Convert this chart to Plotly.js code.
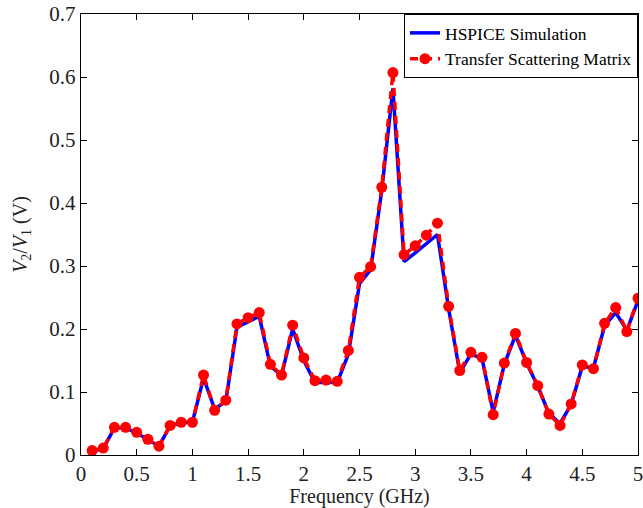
<!DOCTYPE html>
<html><head><meta charset="utf-8">
<script src="https://cdn.plot.ly/plotly-3.0.1.min.js"></script>
<style>body{margin:0;background:#fff;font-family:"Liberation Serif",serif}#c{width:643px;height:508px}</style>
</head><body><div id="c"></div>
<script>
const freq = [0.1,0.2,0.3,0.4,0.5,0.6,0.7,0.8,0.9,1.0,1.1,1.2,1.3,1.4,1.5,1.6,1.7,1.8,1.9,2.0,2.1,2.2,2.3,2.4,2.5,2.6,2.7,2.8,2.9,3.0,3.1,3.2,3.3,3.4,3.5,3.6,3.7,3.8,3.9,4.0,4.1,4.2,4.3,4.4,4.5,4.6,4.7,4.8,4.9,5.0];
const tsm = [0.007,0.011,0.044,0.044,0.036,0.025,0.014,0.047,0.052,0.052,0.127,0.071,0.087,0.208,0.218,0.226,0.144,0.127,0.206,0.154,0.118,0.119,0.117,0.166,0.282,0.299,0.425,0.607,0.318,0.332,0.349,0.368,0.236,0.134,0.163,0.155,0.064,0.146,0.193,0.147,0.110,0.065,0.047,0.081,0.143,0.137,0.209,0.234,0.196,0.249];
const hspice = [0.006,0.010,0.043,0.043,0.035,0.024,0.014,0.046,0.051,0.052,0.122,0.073,0.085,0.203,0.212,0.220,0.141,0.126,0.200,0.150,0.115,0.115,0.115,0.160,0.272,0.294,0.420,0.582,0.307,0.321,0.336,0.350,0.232,0.131,0.160,0.153,0.068,0.144,0.190,0.146,0.109,0.066,0.050,0.080,0.141,0.138,0.205,0.226,0.198,0.245];
const xTicks = [0,0.5,1,1.5,2,2.5,3,3.5,4,4.5,5];
const yTicks = [0,0.1,0.2,0.3,0.4,0.5,0.6,0.7];

const FAM = 'Times New Roman, Liberation Serif, serif';
function F(size, color) { return {family: FAM, size: size, color: color || '#222'}; }
const traces = [
  {x: freq, y: hspice, mode: 'lines', name: 'HSPICE Simulation',
   line: {color: '#0000ff', width: 3.5}},
  {x: freq, y: tsm, mode: 'lines+markers', name: 'Transfer Scattering Matrix',
   line: {color: '#ff0000', width: 3.5, dash: '8px,6px'},
   marker: {color: '#ff0000', size: 11}}
];
function axis(extra) {
  return Object.assign({showgrid: false, zeroline: false, showline: true, linecolor: '#000', linewidth: 1.2,
    mirror: 'ticks', ticks: 'inside', ticklen: 6, tickcolor: '#000', tickfont: F(21),
    ticklabeloverflow: 'allow'}, extra);
}
const layout = {
  width: 643, height: 508,
  margin: {l: 81, r: 5, t: 14, b: 53},
  paper_bgcolor: '#fff', plot_bgcolor: '#fff',
  font: F(20),
  showlegend: true,
  legend: {x: 1, y: 1, xanchor: 'right', yanchor: 'top', bgcolor: '#fff', bordercolor: '#000', borderwidth: 1,
    font: F(17.5, '#000'), tracegroupgap: 0, itemwidth: 30},
  xaxis: axis({range: [0, 5], tickvals: xTicks, ticktext: xTicks.map(String),
    title: {text: 'Frequency (GHz)', font: F(20), standoff: 3}}),
  yaxis: axis({range: [0, 0.7], tickvals: yTicks, ticktext: yTicks.map(String),
    title: {text: '<i>V</i><sub>2</sub>/<i>V</i><sub>1</sub> (V)', font: F(20), standoff: 16}})
};
Plotly.newPlot('c', traces, layout, {displayModeBar: false, staticPlot: true});
</script></body></html>
